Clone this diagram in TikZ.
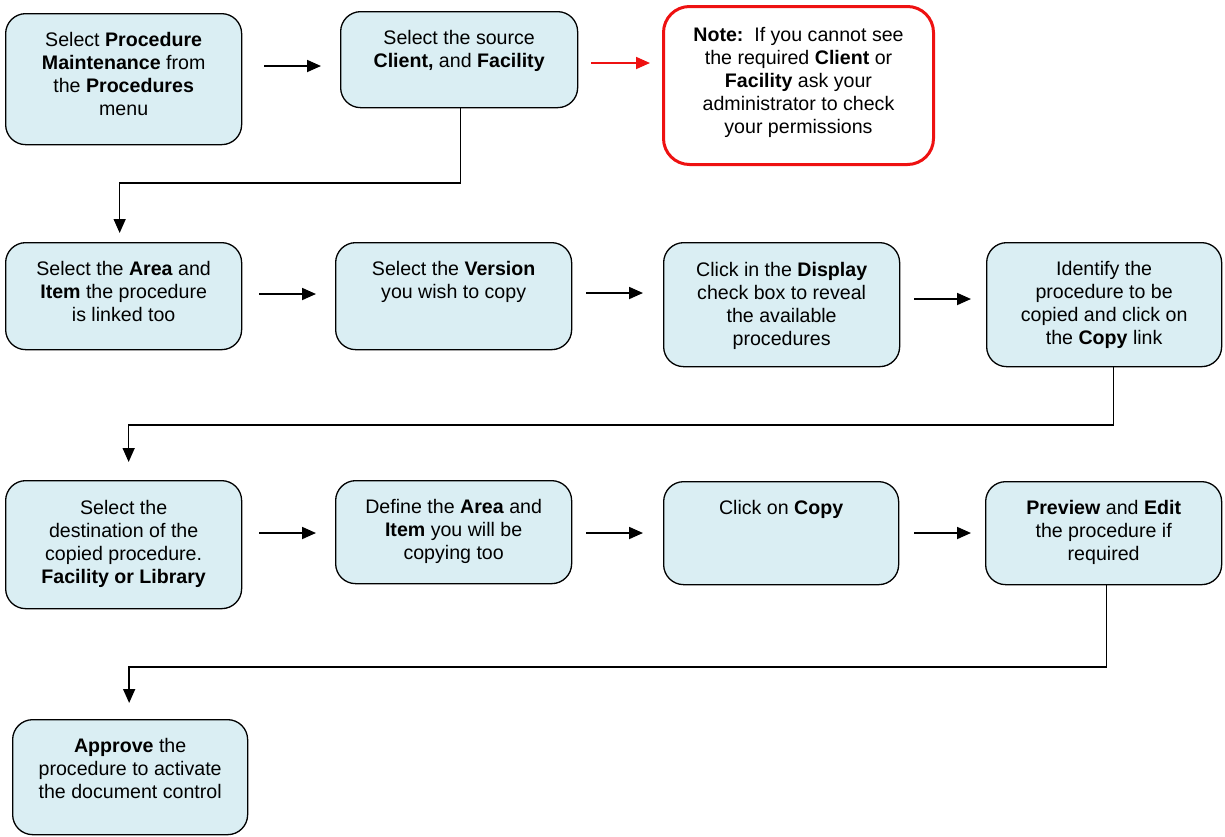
\documentclass[tikz,border=0pt]{standalone}
\usepackage{fontspec}
\setmainfont{Liberation Sans}
\usetikzlibrary{arrows.meta}
\definecolor{boxfill}{HTML}{DAEEF3}
\definecolor{notered}{HTML}{EE1111}
\tikzset{
  stepbox/.style={draw=black, line width=1.3pt, fill=boxfill, rounded corners=20pt,
    anchor=north west, inner sep=0pt},
  notebox/.style={draw=notered, line width=3pt, fill=white, rounded corners=26pt,
    anchor=north west, inner sep=0pt},
  txt/.style={anchor=north, inner sep=0pt, align=center,
    font=\fontsize{19.6}{23}\selectfont},
  arr/.style={line width=1.8pt, -{Triangle[length=14pt,width=12pt]}},
  redarr/.style={arr, draw=notered, -{Triangle[length=14pt,width=12pt,fill=notered]}},
  elbow/.style={line width=1.5pt, -{Triangle[length=14pt,width=12pt]}}
}
\begin{document}
\begin{tikzpicture}[x=1pt,y=-1pt]
\useasboundingbox (0,0) rectangle (1225,836);

% boxes
\node[stepbox, minimum width=236pt, minimum height=131pt] (b1) at (5,13) {};
\node[stepbox, minimum width=237pt, minimum height=96pt] (b2) at (340,11) {};
\node[notebox, minimum width=270pt, minimum height=158pt] (note) at (662,5) {};

\node[stepbox, minimum width=236pt, minimum height=107pt] (r2a) at (5,242) {};
\node[stepbox, minimum width=236pt, minimum height=107pt] (r2b) at (335,242) {};
\node[stepbox, minimum width=236pt, minimum height=124pt] (r2c) at (663,242) {};
\node[stepbox, minimum width=235pt, minimum height=124pt] (r2d) at (986,242) {};

\node[stepbox, minimum width=236pt, minimum height=128pt] (r3a) at (5,480) {};
\node[stepbox, minimum width=236pt, minimum height=103pt] (r3b) at (335,480) {};
\node[stepbox, minimum width=235pt, minimum height=103pt] (r3c) at (663,481) {};
\node[stepbox, minimum width=236pt, minimum height=103pt] (r3d) at (985,481) {};

\node[stepbox, minimum width=235pt, minimum height=115pt] (r4) at (12,719) {};

% texts
\node[txt] (t1) at ([yshift=-19.5pt]b1.north) {Select \textbf{Procedure}\\\textbf{Maintenance} from\\the \textbf{Procedures}\\menu};
\node[txt] (t2) at ([yshift=-19.5pt]b2.north) {Select the source\\\textbf{Client,} and \textbf{Facility}};
\node[txt] (tn) at ([yshift=-22.5pt]note.north) {\textbf{Note:}\ \ If you cannot see\\the required \textbf{Client} or\\\textbf{Facility} ask your\\administrator to check\\your permissions};

\node[txt] (t2a) at ([yshift=-19.5pt]r2a.north) {Select the \textbf{Area} and\\\textbf{Item} the procedure\\is linked too};
\node[txt] (t2b) at ([yshift=-19.5pt]r2b.north) {Select the \textbf{Version}\\you wish to copy};
\node[txt] (t2c) at ([yshift=-20.5pt]r2c.north) {Click in the \textbf{Display}\\check box to reveal\\the available\\procedures};
\node[txt] (t2d) at ([yshift=-19.5pt]r2d.north) {Identify the\\procedure to be\\copied and click on\\the \textbf{Copy} link};

\node[txt] (t3a) at ([yshift=-20.5pt]r3a.north) {Select the\\destination of the\\copied procedure.\\\textbf{Facility or Library}};
\node[txt] (t3b) at ([yshift=-19.5pt]r3b.north) {Define the \textbf{Area} and\\\textbf{Item} you will be\\copying too};
\node[txt] (t3c) at ([yshift=-19.5pt]r3c.north) {Click on \textbf{Copy}};
\node[txt] (t3d) at ([yshift=-19.5pt]r3d.north) {\textbf{Preview} and \textbf{Edit}\\the procedure if\\required};

\node[txt] (t4) at ([yshift=-19.5pt]r4.north) {\textbf{Approve} the\\procedure to activate\\the document control};

% horizontal arrows
\draw[arr, shorten <=22pt, shorten >=19pt] (b1.east |- 0,66) -- (b2.west |- 0,66);
\draw[redarr, shorten <=13pt, shorten >=12pt] (b2.east |- 0,63) -- (note.west |- 0,63);

\draw[arr, shorten <=17pt, shorten >=19pt] (r2a.east |- 0,294) -- (r2b.west |- 0,294);
\draw[arr, shorten <=14pt, shorten >=20pt] (r2b.east |- 0,293) -- (r2c.west |- 0,293);
\draw[arr, shorten <=14pt, shorten >=15pt] (r2c.east |- 0,299) -- (r2d.west |- 0,299);

\draw[arr, shorten <=17pt, shorten >=19pt] (r3a.east |- 0,533) -- (r3b.west |- 0,533);
\draw[arr, shorten <=14pt, shorten >=20pt] (r3b.east |- 0,533) -- (r3c.west |- 0,533);
\draw[arr, shorten <=15pt, shorten >=14pt] (r3c.east |- 0,533) -- (r3d.west |- 0,533);

% elbow connectors
\draw[elbow, shorten >=9pt] ([xshift=1.5pt]b2.south) -- ([xshift=1.5pt]b2.south |- 0,183) -| ([xshift=-4pt]r2a.north);
\draw[elbow, shorten >=18pt] ([xshift=9.5pt]r2d.south) -- ([xshift=9.5pt]r2d.south |- 0,425) -| ([xshift=5pt]r3a.north);
\draw[elbow, shorten >=16pt] ([xshift=3pt]r3d.south) -- ([xshift=3pt]r3d.south |- 0,667) -| ([xshift=-1pt]r4.north);
\end{tikzpicture}
\end{document}
